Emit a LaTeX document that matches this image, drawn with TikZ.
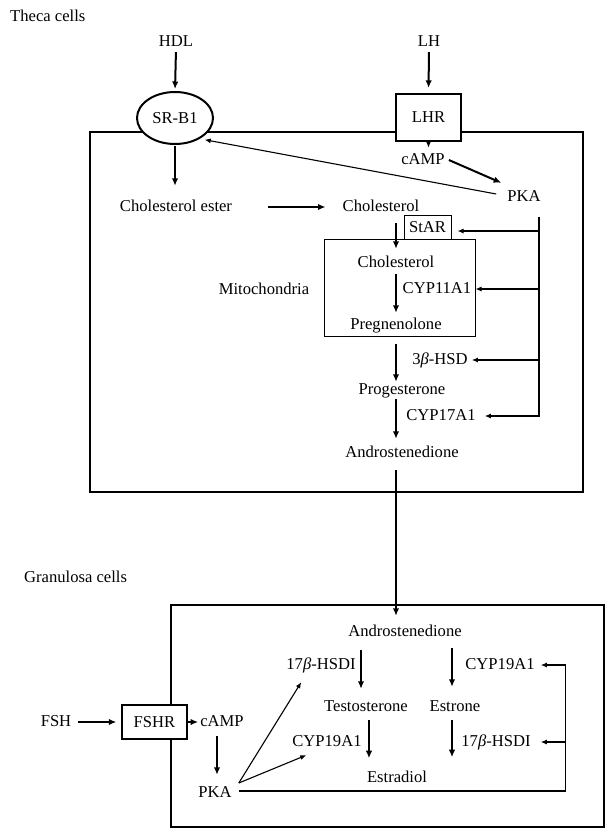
\documentclass[tikz,border=0pt]{standalone}
\usepackage{fontspec}
\setmainfont{Liberation Serif}
\usetikzlibrary{arrows.meta,shapes.geometric,calc}
\begin{document}
\begin{tikzpicture}[x=1pt,y=-1pt,
  txt/.style={inner sep=0pt, text height=11pt, text depth=3pt, font=\fontsize{16.6}{19}\selectfont},
  thk/.style={line width=2pt, -{Latex[length=7.5pt,width=6.5pt]}},
  thn/.style={line width=1.1pt, -{Latex[length=6pt,width=5pt]}},
  cellbox/.style={draw, line width=1.2pt},
  thinbox/.style={draw, line width=1pt, inner sep=0pt},
  recep/.style={draw, fill=white, line width=2pt, inner sep=0pt, font=\fontsize{16.6}{19}\selectfont}]
\useasboundingbox (0,0) rectangle (611,839);
% cell boxes
\draw[cellbox] (90,132) rectangle (583,492);
\draw[cellbox] (171,605) rectangle (604,827);
% ---------------- Theca ----------------
\node[txt,anchor=west] (thecalbl) at (10,17) {Theca cells};
\node[txt] (hdl) at (176,42) {HDL};
\node[txt] (lh) at (429,42) {LH};
\node[recep, ellipse, minimum width=76pt, minimum height=52pt] (srb1) at (175,118) {SR-B1};
\node[recep, rectangle, line width=2.2pt, minimum width=65pt, minimum height=47pt] (lhr) at (428.5,117.5) {LHR};
\node[txt] (camp1) at (423,160) {cAMP};
\node[txt] (pka1) at (524,197) {PKA};
\node[txt] (cholester) at (176,207) {Cholesterol ester};
\node[txt] (chol1) at (381,207) {Cholesterol};
\node[thinbox, minimum width=47pt, minimum height=24pt, font=\fontsize{16.6}{19}\selectfont] (star) at (427.5,227) {StAR};
\node[thinbox, minimum width=151pt, minimum height=97pt] (mito) at (399.5,287.5) {};
\node[txt] (cholin) at (396,263) {Cholesterol};
\node[txt] (cyp11) at (437,289) {CYP11A1};
\node[txt] (preg) at (396,325) {Pregnenolone};
\node[txt] (mitolbl) at (264,290) {Mitochondria};
\node[txt] (hsd3) at (440,360) {3\textit{β}-HSD};
\node[txt] (prog) at (402,390) {Progesterone};
\node[txt] (cyp17) at (441,416) {CYP17A1};
\node[txt] (andro1) at (402,453) {Androstenedione};

\draw[thk, shorten <=3pt, shorten >=2pt] (hdl.south) -- (srb1.north);
\draw[thk, shorten <=3pt, shorten >=5pt] (lh.south) -- (lhr.north);
\draw[thk, shorten >=5pt] (lhr.south) -- (lhr.south |- camp1.north);
\draw[thk] ($(camp1.east)+(4,0)$) -- ($(pka1.north west)+(-6,-7)$);
\draw[thn, shorten >=5pt] ($(pka1.west)+(-11,-3)$) -- (srb1.-40);
\draw[thk, shorten <=1pt, shorten >=14pt] (srb1.south) -- (srb1.south |- cholester.north);
\draw[thk, shorten <=36pt, shorten >=17pt] (cholester.east) -- (chol1.west);
\draw[thk, shorten <=9pt, shorten >=7pt] (chol1.south -| cholin.north) -- (cholin.north);
\draw[thk, shorten <=4pt, shorten >=5pt] (cholin.south) -- (cholin.south |- preg.north);
\draw[thk, shorten <=12pt, shorten >=1pt] (preg.south) -- (preg.south |- prog.north);
\draw[thk, shorten <=2pt, shorten >=7pt] (preg.south |- prog.south) -- (preg.south |- andro1.north);

\coordinate (pkab) at ($(pka1.south)+(15,13)$);
\draw[thn, shorten >=6pt] (pkab) |- ($(star.east)+(0,4)$);
\draw[thn] (pkab) |- (mito.east |- cyp11.east);
\draw[thn, shorten >=4pt] (pkab) |- (hsd3.east);
\draw[thn, shorten >=9pt] (pkab) |- (cyp17.east);

% ---------------- Granulosa ----------------
\node[txt,anchor=west] (glbl) at (24,578) {Granulosa cells};
\node[txt] (gandro) at (405,632) {Androstenedione};
\node[txt] (hsdi1) at (321,665) {17\textit{β}-HSDI};
\node[txt] (cyp19a) at (500,665) {CYP19A1};
\node[txt] (testo) at (366,707) {Testosterone};
\node[txt] (estrone) at (455,707) {Estrone};
\node[txt] (cyp19b) at (327,742) {CYP19A1};
\node[txt] (hsdi2) at (496,742) {17\textit{β}-HSDI};
\node[txt] (estradiol) at (397,778) {Estradiol};
\node[txt] (gpka) at (215,793) {PKA};
\node[txt] (fsh) at (56,722) {FSH};
\node[draw, fill=white, line width=1.3pt, inner sep=0pt, minimum width=65pt, minimum height=34pt, font=\fontsize{16.6}{19}\selectfont] (fshr) at (154.5,722) {FSHR};
\node[txt] (gcamp) at (222,722) {cAMP};

\draw[thk, shorten <=10pt, shorten >=9pt] (preg.south |- andro1.south) -- (preg.south |- gandro.north);
\draw[thk] ($(testo.north)+(-5,-50)$) -- ($(testo.north)+(-5,-11)$);
\draw[thk] ($(estrone.north)+(-3,-52)$) -- ($(estrone.north)+(-3,-13)$);
\draw[thk] ($(testo.south)+(3,6)$) -- ($(testo.south)+(3,44)$);
\draw[thk] ($(estrone.south)+(-3,6)$) -- ($(estrone.south)+(-3,43)$);

\coordinate (gcorner) at ($(gpka.east)+(334,-2)$);
\draw[thn, shorten >=6pt] ($(gpka.east)+(7,-2)$) -- (gcorner) |- (cyp19a.east);
\draw[thn, shorten >=10pt] (gcorner) |- (hsdi2.east);
\draw[thn] ($(gpka.east)+(7,-10)$) -- ($(hsdi1.south west)+(15,10)$);
\draw[thn] ($(gpka.east)+(7,-10)$) -- ($(cyp19b.south west)+(14,6)$);

\draw[thk, shorten <=7pt, shorten >=5pt] (fsh.east) -- (fshr.west);
\draw[thk, shorten >=2pt] (fshr.east) -- (gcamp.west);
\draw[thk] ($(gcamp.south)+(-5,7)$) -- ($(gpka.north)+(2,-11)$);
\end{tikzpicture}
\end{document}
